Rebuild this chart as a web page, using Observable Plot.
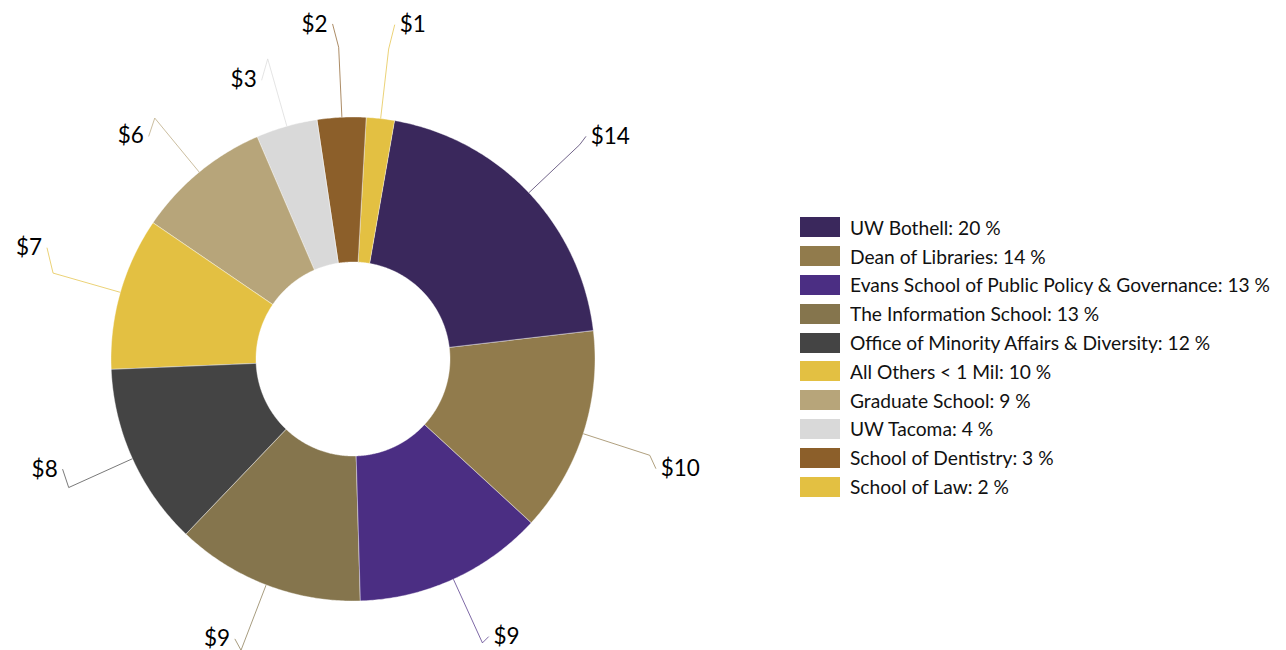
<!DOCTYPE html>
<html>
<head>
<meta charset="utf-8">
<script src="https://cdn.jsdelivr.net/npm/d3@7"></script>
<script src="https://cdn.jsdelivr.net/npm/@observablehq/plot@0.6"></script>
<style>
  html, body { margin: 0; padding: 0; background: #fff; }
  #wrap { position: relative; width: 1286px; height: 650px; overflow: hidden; }
  #chart svg { display: block; }
  #legend { position: absolute; left: 800px; top: 213px; }
  .lg-swatches { font-family: Lato, "Open Sans", sans-serif; font-size: 19.2px; color: #111; margin: 0; }
  .lg-swatches .lg-swatch { height: 28.8px; padding-bottom: 0; }
  .lg-swatches .lg-swatch > svg { margin-right: 10px; }
</style>
</head>
<body>
<div id="wrap"><div id="chart"></div><div id="legend"></div></div>
<script>
// ---- data (values in $ millions) ----
const names = [
  "UW Bothell",
  "Dean of Libraries",
  "Evans School of Public Policy & Governance",
  "The Information School",
  "Office of Minority Affairs & Diversity",
  "All Others < 1 Mil",
  "Graduate School",
  "UW Tacoma",
  "School of Dentistry",
  "School of Law"
];
const values = [14.18, 9.52, 8.83, 8.76, 8.48, 7.09, 6.26, 2.85, 2.26, 1.29];
const colors = ["#3a285c", "#917b4c", "#4b2e83", "#85754d", "#444444",
                "#e3c042", "#b7a57a", "#d9d9d9", "#8c5f2a", "#e3c042"];

// ---- layout ----
const W = 1286, H = 650;
const cx = 352.5, cy = 358.5;          // donut centre in the picture
const R = 242, r0 = 97, elbowR = 312;  // outer, inner, leader-elbow radius
const startDeg = 9.9;                  // first slice angle
const labelDy = [-8, 13, -6, -11, -18, -25, 18, 21, -23, -24]; // label nudges (px, down +)

const total = d3.sum(values);
const a0 = startDeg * Math.PI / 180;
const arcs = d3.pie().sort(null).value(d => d).startAngle(a0).endAngle(a0 + 2 * Math.PI)(values);

const pt = (rho, a) => ({x: rho * Math.sin(a), y: rho * Math.cos(a)});

// wedge outlines
const wedges = [];
arcs.forEach((a, i) => {
  const n = Math.max(2, Math.ceil((a.endAngle - a.startAngle) / (Math.PI / 360)));
  for (let k = 0; k <= n; k++) {
    const t = a.startAngle + (a.endAngle - a.startAngle) * k / n;
    wedges.push({name: names[i], ...pt(R, t)});
  }
  for (let k = n; k >= 0; k--) {
    const t = a.startAngle + (a.endAngle - a.startAngle) * k / n;
    wedges.push({name: names[i], ...pt(r0, t)});
  }
});

// leader lines and labels
const leaders = [];
const labels = [];
arcs.forEach((a, i) => {
  const mid = (a.startAngle + a.endAngle) / 2;
  const side = Math.sin(mid) >= 0 ? 1 : -1;
  const s = pt(R, mid), e = pt(elbowR, mid);
  const end = {x: e.x + side * 6, y: e.y - labelDy[i]};
  leaders.push({name: names[i], ...s}, {name: names[i], ...e}, {name: names[i], ...end});
  labels.push({name: names[i], side, x: end.x + side * 5, y: end.y, text: `$${Math.round(values[i])}`});
});

const colorScale = {domain: names, range: colors};

const chart = Plot.plot({
  width: W, height: H,
  marginTop: 0, marginRight: 0, marginBottom: 0, marginLeft: 0,
  x: {domain: [-cx, W - cx], axis: null},
  y: {domain: [-(H - cy), cy], axis: null},
  color: colorScale,
  style: {background: "white", overflow: "visible"},
  marks: [
    Plot.line(leaders, {x: "x", y: "y", z: "name", stroke: "name", strokeWidth: 0.9, strokeOpacity: 0.8, curve: "linear"}),
    Plot.line(wedges, {x: "x", y: "y", z: "name", fill: "name", stroke: "white", strokeWidth: 0.4, curve: "linear-closed"}),
    Plot.text(labels.filter(d => d.side > 0), {x: "x", y: "y", text: "text", textAnchor: "start", fontSize: 22.5, fontFamily: "Lato", fill: "#000"}),
    Plot.text(labels.filter(d => d.side < 0), {x: "x", y: "y", text: "text", textAnchor: "end", fontSize: 22.5, fontFamily: "Lato", fill: "#000"})
  ]
});
document.getElementById("chart").append(chart);

const legend = Plot.legend({
  color: colorScale,
  legend: "swatches",
  columns: 1,
  swatchWidth: 40,
  swatchHeight: 20,
  className: "lg",
  tickFormat: d => `${d}: ${Math.round(values[names.indexOf(d)] / total * 100)} %`
});
document.getElementById("legend").append(legend);
</script>
</body>
</html>
